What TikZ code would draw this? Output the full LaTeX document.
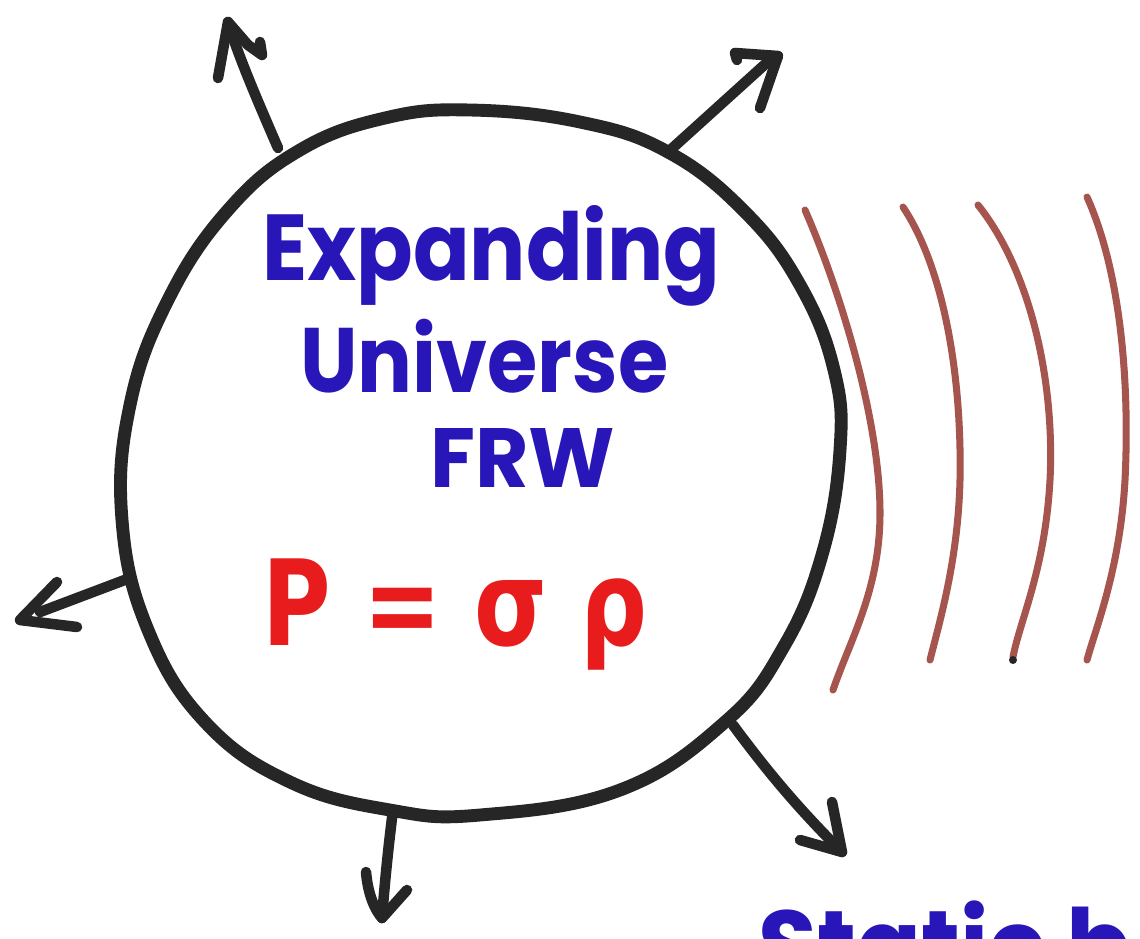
\documentclass[tikz,border=0pt]{standalone}
\usepackage{fontspec}
\setmainfont{Poppins}
\newfontfamily\greekfont{DejaVu Sans}
\definecolor{inkblack}{RGB}{38,38,38}
\definecolor{inkblue}{RGB}{40,22,185}
\definecolor{inkred}{RGB}{232,28,28}
\definecolor{inkbrown}{RGB}{165,85,78}
\tikzset{
  rim/.style={draw=inkblack, line width=11pt, line join=round, line cap=round},
  shaft/.style={draw=inkblack, line width=9pt, line cap=round, line join=round},
  wave/.style={draw=inkbrown, line width=6pt, line cap=round},
  bluetxt/.style={text=inkblue, inner sep=0pt, anchor=base west, font=\bfseries},
  redtxt/.style={text=inkred, inner sep=0pt, anchor=base west, font=\bfseries},
}
\begin{document}
\begin{tikzpicture}[x=0.03cm, y=-0.03cm]
\fill[white] (0,0) rectangle (1140,938);
\useasboundingbox (0,0) rectangle (1140,938);
\clip (0,0) rectangle (1140,938);

% the universe (hand-drawn circle)
\draw[rim] plot[smooth cycle, tension=0.7] coordinates {
 (470,110) (580,122) (668,152) (745,212) (800,285) (834,370) (840,450)
 (822,555) (783,648) (725,722) (620,790) (480,815) (390,810) (290,782)
 (205,722) (148,630) (122,520) (130,405) (168,300) (228,210) (300,150) (385,118)};

% anchor coordinates on the rim and arrow tips
\coordinate (s1) at (278,148);  \coordinate (t1) at (228,22);
\coordinate (s2) at (667,153);  \coordinate (t2) at (772,58);
\coordinate (s3) at (130,578);  \coordinate (t3) at (20,620);
\coordinate (s4) at (393,810);  \coordinate (t4) at (382,918);
\coordinate (s5) at (733,725);  \coordinate (t5) at (842,852);

% arrows
\draw[shaft] (s1) .. controls (255,95) and (238,55) .. (t1);
\draw[shaft] (218,78) -- (t1) -- (248,45) -- (262,55) -- (260,42);
\draw[shaft] (s2) -- (t2);
\draw[shaft] (737,60) -- (735,53) -- (778,56) -- (t2);
\draw[shaft] (778,56) -- (760,108);
\draw[shaft] (s3) -- (40,612);
\draw[shaft] (57,582) -- (t3) -- (77,627);
\draw[shaft] (s4) .. controls (388,850) and (385,880) .. (t4);
\draw[shaft] (366,872) .. controls (368,895) and (375,910) .. (t4) -- (407,890);
\draw[shaft] (s5) .. controls (770,775) and (800,810) .. (t5);
\draw[shaft] (800,840) -- (t5) -- (832,802);

% radiation (brown arcs)
\draw[wave] (805,210) .. controls (840,290) and (880,420) .. (880,513)
            .. controls (880,590) and (850,640) .. (833,690);
\draw[wave] (903,207) .. controls (945,270) and (962,380) .. (960,480)
            .. controls (958,560) and (940,620) .. (930,660);
\draw[wave] (978,205) .. controls (1030,270) and (1055,380) .. (1050,480)
            .. controls (1045,570) and (1020,620) .. (1013,657);
\fill[inkblack] (1013,660) circle (4);
\draw[wave] (1087,197) .. controls (1120,270) and (1130,380) .. (1125,480)
            .. controls (1120,570) and (1095,630) .. (1087,660);

% texts
\node[bluetxt] (exp) at (262,280) {\resizebox{13.74cm}{2.25cm}{Expanding}};
\node[bluetxt] (uni) at (300,392) {\resizebox{11.04cm}{2.2cm}{Universe}};
\node[bluetxt] (frw) at (430,487) {\resizebox{5.55cm}{1.77cm}{FRW}};
\node[redtxt] (eos) at (262,645) {\resizebox{11.55cm}{2.6cm}{\greekfont\bfseries P = σ ρ}};
\node[bluetxt] (stat) at (758,982) {\resizebox{11.2cm}{2.45cm}{Static b}};
\end{tikzpicture}
\end{document}
